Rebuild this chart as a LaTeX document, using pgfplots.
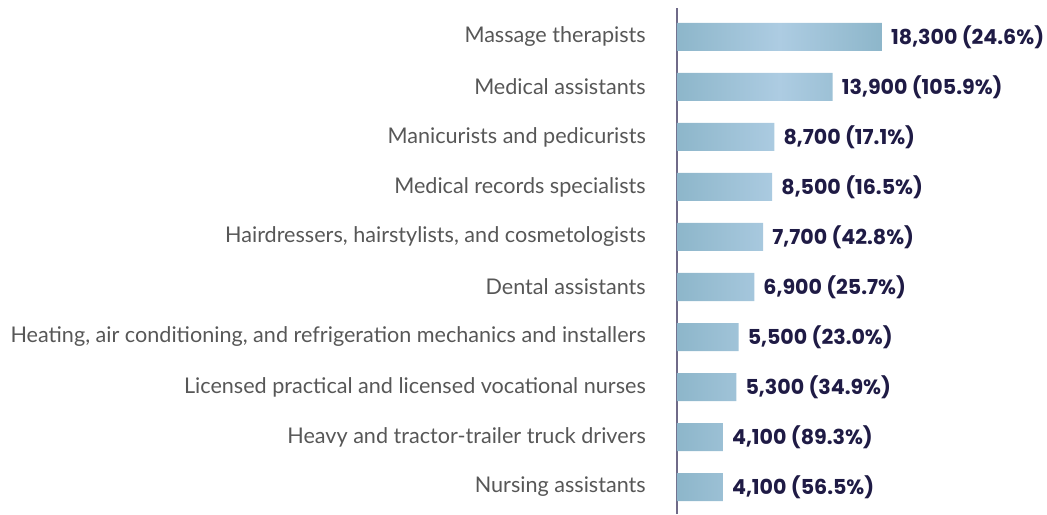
\documentclass[border=0pt]{standalone}
\usepackage{pgfplots}
\pgfplotsset{compat=1.18}
\usepackage{fontspec}
\setmainfont{Lato}
\newfontfamily\valfont{Poppins}
\definecolor{barDark}{HTML}{8DB6CA}
\definecolor{barLight}{HTML}{ADCCE2}
\definecolor{axisLine}{HTML}{6F6A88}
\definecolor{catText}{HTML}{575757}
\definecolor{valText}{HTML}{1F1B45}

\begin{document}
\begin{tikzpicture}
\begin{axis}[
  scale only axis,
  width=370pt, height=506pt,
  xbar, bar width=28pt,
  xmin=0, xmax=33030,
  ymin=-0.54, ymax=9.58,
  axis x line=none,
  axis y line*=left,
  y axis line style={draw=axisLine, line width=1.6pt, -},
  ytick={0,...,9},
  yticklabels={Nursing assistants,
    Heavy and tractor-trailer truck drivers,
    Licensed practical and licensed vocational nurses,
    {Heating, air conditioning, and refrigeration mechanics and installers},
    Dental assistants,
    {Hairdressers, hairstylists, and cosmetologists},
    Medical records specialists,
    Manicurists and pedicurists,
    Medical assistants,
    Massage therapists},
  major tick length=0pt,
  yticklabel style={font=\fontsize{21.6}{24}\selectfont, text=catText,
    anchor=east, inner sep=0pt, xshift=-31pt},
  point meta=explicit symbolic,
  nodes near coords,
  nodes near coords align=horizontal,
  every node near coord/.append style={font=\valfont\bfseries\fontsize{20.6}{23}\selectfont,
    text=valText, anchor=west, inner sep=0pt, xshift=9pt},
]
\addplot[draw=none, left color=barDark, right color=barDark, middle color=barLight]
  coordinates {
    (4100,0) [4,100 (56.5\%)]
    (4100,1) [4,100 (89.3\%)]
    (5300,2) [5,300 (34.9\%)]
    (5500,3) [5,500 (23.0\%)]
    (6900,4) [6,900 (25.7\%)]
    (7700,5) [7,700 (42.8\%)]
    (8500,6) [8,500 (16.5\%)]
    (8700,7) [8,700 (17.1\%)]
    (13900,8) [13,900 (105.9\%)]
    (18300,9) [18,300 (24.6\%)]
  };
\end{axis}
\path (current axis.south west) ++(-677pt,0pt);
\path (current axis.north east) ++(0pt,8pt);
\end{tikzpicture}
\end{document}
